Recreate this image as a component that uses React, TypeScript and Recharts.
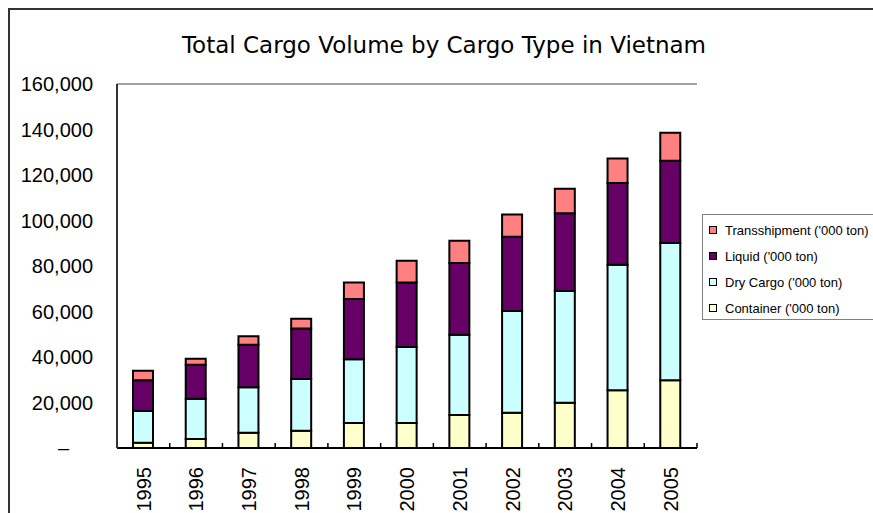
import React from 'react';
import { BarChart, Bar, XAxis, YAxis, CartesianGrid, Legend } from 'recharts';

const YEARS = ['1995', '1996', '1997', '1998', '1999', '2000', '2001', '2002', '2003', '2004', '2005'];
const CONTAINER = [2300, 4000, 6700, 7600, 11000, 11000, 14500, 15500, 19900, 25400, 29800];
const DRY_CARGO = [14000, 17700, 20000, 22700, 28000, 33400, 35300, 44700, 49100, 55200, 60300];
const LIQUID = [13500, 14900, 18700, 22200, 26500, 28300, 31500, 32700, 34200, 35900, 36200];
const TRANSSHIPMENT = [4200, 2650, 3700, 4300, 7200, 9600, 9800, 9700, 10800, 10700, 12300];
const Y_TICKS = [0, 20000, 40000, 60000, 80000, 100000, 120000, 140000, 160000];

const SERIES = [
  { key: 'container', name: "Container ('000 ton)", color: '#FFFFCC', values: CONTAINER },
  { key: 'dry', name: "Dry Cargo ('000 ton)", color: '#CCFFFF', values: DRY_CARGO },
  { key: 'liquid', name: "Liquid ('000 ton)", color: '#660066', values: LIQUID },
  { key: 'trans', name: "Transshipment ('000 ton)", color: '#FF8080', values: TRANSSHIPMENT },
];

const data = YEARS.map((year, i) => {
  const row: any = { year };
  SERIES.forEach(s => { row[s.key] = s.values[i]; });
  return row;
});

const W = 863;
const H = 503;
const MARGIN = { top: 74, right: 176, bottom: 5, left: 0 };
const BAND = (W - MARGIN.left - 107 - MARGIN.right) / YEARS.length;
const FONT = '"Liberation Sans", Arial, sans-serif';

const XTick = ({ x, y, payload }: any) => (
  <g>
    <line x1={x + BAND / 2} x2={x + BAND / 2} y1={y} y2={y - 5} stroke="#000" strokeWidth={1.5} />
    <text
      transform={`translate(${x},${y + 19}) rotate(-90)`}
      textAnchor="end"
      dy="0.36em"
      fontSize={20}
      fontFamily={FONT}
      fill="#000"
    >
      {payload.value}
    </text>
  </g>
);

const YTick = ({ x, y, payload }: any) => (
  <text
    x={payload.value === 0 ? x - 24 : x}
    y={y}
    dy="0.36em"
    textAnchor="end"
    fontSize={20}
    fontFamily={FONT}
    fill="#000"
  >
    {payload.value === 0 ? '–' : payload.value.toLocaleString('en-US')}
  </text>
);

const LegendBox = () => (
  <div
    style={{
      border: '1px solid #808080',
      borderRight: 'none',
      background: '#fff',
      height: 106,
      boxSizing: 'border-box',
      paddingTop: 2,
      paddingLeft: 6,
    }}
  >
    {[...SERIES].reverse().map(s => (
      <div key={s.key} style={{ display: 'flex', alignItems: 'center', height: 26 }}>
        <span
          style={{
            display: 'inline-block',
            width: 6,
            height: 6,
            background: s.color,
            border: '1.5px solid #000',
            marginRight: 8,
          }}
        />
        <span style={{ fontFamily: FONT, fontSize: 13, color: '#000', whiteSpace: 'nowrap' }}>{s.name}</span>
      </div>
    ))}
  </div>
);

export default function App() {
  return (
    <div
      style={{
        position: 'absolute',
        left: 8,
        top: 8,
        width: W,
        height: H,
        borderLeft: '2px solid #333',
        borderTop: '2px solid #333',
        overflow: 'hidden',
        background: '#fff',
      }}
    >
      <BarChart width={W} height={H} data={data} margin={MARGIN}>
        <text x={434} y={43} textAnchor="middle" fontSize={23} fontFamily='"DejaVu Sans", sans-serif' fill="#000">
          Total Cargo Volume by Cargo Type in Vietnam
        </text>
        <CartesianGrid vertical={false} stroke="#808080" strokeWidth={1.5} />
        <XAxis
          dataKey="year"
          height={60}
          tickSize={0}
          tickMargin={0}
          tick={<XTick />}
          interval={0}
          axisLine={{ stroke: '#000', strokeWidth: 2 }}
        />
        <YAxis
          yAxisId="left"
          width={107}
          domain={[0, 160000]}
          ticks={Y_TICKS}
          tickMargin={18}
          tickLine={false}
          tick={<YTick />}
          axisLine={{ stroke: '#333', strokeWidth: 2 }}
        />
        <YAxis
          yAxisId="right"
          orientation="right"
          width={0}
          domain={[0, 160000]}
          tick={false}
          tickLine={false}
          axisLine={{ stroke: '#808080', strokeWidth: 1.5 }}
        />
        {SERIES.map(s => (
          <Bar
            key={s.key}
            yAxisId="left"
            dataKey={s.key}
            name={s.name}
            stackId="a"
            fill={s.color}
            stroke="#000"
            strokeWidth={2}
            barSize={20}
            isAnimationActive={false}
          />
        ))}
        <Legend
          layout="horizontal"
          align="center"
          verticalAlign="middle"
          content={<LegendBox />}
          wrapperStyle={{ left: 692, top: 204, width: 180 }}
        />
      </BarChart>
    </div>
  );
}
